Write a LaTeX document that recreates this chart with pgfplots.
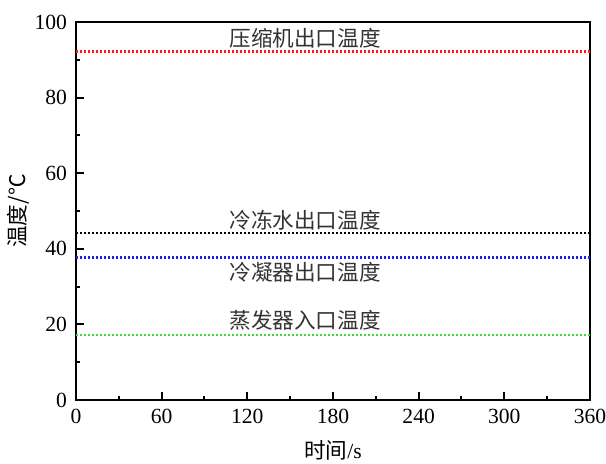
\documentclass[border=0pt]{standalone}
\usepackage{fontspec}
\setmainfont{Liberation Serif}
\newfontfamily\cjk{Noto Sans CJK SC}
\usepackage{pgfplots}
\pgfplotsset{compat=1.18}
\definecolor{cred}{RGB}{225,35,35}
\definecolor{cblue}{RGB}{35,35,200}
\definecolor{cgreen}{RGB}{60,215,60}
\begin{document}
\begin{tikzpicture}
\begin{axis}[
  scale only axis,
  width=257pt, height=189pt,
  xmin=0, xmax=360, ymin=0, ymax=100,
  xtick={0,60,...,360}, ytick={0,20,...,100},
  minor x tick num=1, minor y tick num=1,
  xtick pos=bottom, ytick pos=left,
  tick align=inside,
  major tick length=4pt, minor tick length=2pt,
  axis line style={line width=1.1pt},
  every tick/.style={line width=1pt, black},
  /pgf/number format/assume math mode=true,
  tick label style={font=\fontsize{10.8}{12}\selectfont},
  yticklabel style={xshift=-1pt},
  xticklabel style={yshift=-1pt},
  xlabel={{\cjk 时间}/s},
  ylabel={{\cjk 温度/℃}},
  label style={font=\fontsize{10.8}{12}\selectfont},
  xlabel style={at={(axis description cs:0.5,-0.132)}, anchor=center},
  ylabel style={at={(axis description cs:-0.113,0.5)}, anchor=center},
  every axis plot/.append style={line width=1.4pt, dash pattern=on 1pt off 1pt},
]
\addplot[cred] coordinates {(0,92.1) (360,92.1)};
\addplot[black] coordinates {(0,44.2) (360,44.2)};
\addplot[cblue] coordinates {(0,37.6) (360,37.6)};
\addplot[cgreen] coordinates {(0,17.2) (360,17.2)};
\node[font=\cjk\fontsize{10.8}{12}\selectfont, text=black!80] at (axis cs:160.4,95.8) {压缩机出口温度};
\node[font=\cjk\fontsize{10.8}{12}\selectfont, text=black!80] at (axis cs:160.4,47.6) {冷冻水出口温度};
\node[font=\cjk\fontsize{10.8}{12}\selectfont, text=black!80] at (axis cs:160.4,33.9) {冷凝器出口温度};
\node[font=\cjk\fontsize{10.8}{12}\selectfont, text=black!80] at (axis cs:160.4,21.2) {蒸发器入口温度};
\coordinate (sw) at (rel axis cs:0,0);
\end{axis}
\pgfresetboundingbox
\path[use as bounding box] ([xshift=-38pt,yshift=-31.5pt]sw) rectangle ([xshift=265pt,yshift=200pt]sw);
\end{tikzpicture}
\end{document}
